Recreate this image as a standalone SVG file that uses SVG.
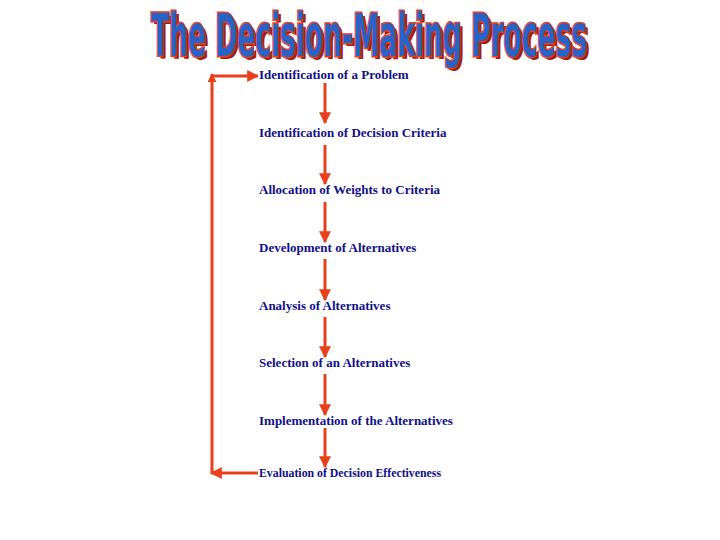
<svg xmlns="http://www.w3.org/2000/svg" width="720" height="540" viewBox="0 0 720 540">
<style>
.lbl{font-family:"Liberation Serif","Times New Roman",serif;font-weight:bold;font-size:13px;fill:#10108a}
.arr{stroke:#e8401c;stroke-width:3;fill:none}
.title{font-family:"Liberation Sans Narrow","DejaVu Sans Condensed","Liberation Sans",sans-serif;font-weight:bold;font-size:58px}
</style>
<defs>
<marker id="ah" viewBox="0 0 10 10" refX="9" refY="5" markerWidth="4" markerHeight="4" orient="auto" markerUnits="strokeWidth">
<path d="M0,0 L10,5 L0,10 Z" fill="#e8401c"/>
</marker>
<marker id="ahs" viewBox="0 0 10 10" refX="9" refY="5" markerWidth="3" markerHeight="3" orient="auto" markerUnits="strokeWidth">
<path d="M0,0 L10,5 L0,10 Z" fill="#e8401c"/>
</marker>
</defs>
<rect width="720" height="540" fill="#ffffff"/>
<g id="title">
<text x="369" y="56" text-anchor="middle" class="title" textLength="436" lengthAdjust="spacingAndGlyphs" fill="#a02010" transform="translate(3,3)">The Decision-Making Process</text>
<text x="369" y="56" text-anchor="middle" class="title" textLength="436" lengthAdjust="spacingAndGlyphs" fill="#2a62c8" stroke="#e8401c" stroke-width="3" paint-order="stroke">The Decision-Making Process</text>
</g>
<g id="n1"><text class="lbl" x="259" y="79">Identification of a Problem</text></g>
<g id="n2"><text class="lbl" x="259" y="137">Identification of Decision Criteria</text></g>
<g id="n3"><text class="lbl" x="259" y="194">Allocation of Weights to Criteria</text></g>
<g id="n4"><text class="lbl" x="259" y="252">Development of Alternatives</text></g>
<g id="n5"><text class="lbl" x="259" y="310">Analysis of Alternatives</text></g>
<g id="n6"><text class="lbl" x="259" y="367">Selection of an Alternatives</text></g>
<g id="n7"><text class="lbl" x="259" y="425">Implementation of the Alternatives</text></g>
<g id="n8"><text class="lbl" x="259" y="477" style="font-size:11.5px" textLength="182" lengthAdjust="spacingAndGlyphs">Evaluation of Decision Effectiveness</text></g>
<g id="connectors">
<line class="arr" x1="325" y1="83" x2="325" y2="123" marker-end="url(#ah)"/>
<line class="arr" x1="325" y1="145" x2="325" y2="184" marker-end="url(#ah)"/>
<line class="arr" x1="325" y1="202" x2="325" y2="242" marker-end="url(#ah)"/>
<line class="arr" x1="325" y1="259" x2="325" y2="300" marker-end="url(#ah)"/>
<line class="arr" x1="325" y1="317" x2="325" y2="357" marker-end="url(#ah)"/>
<line class="arr" x1="325" y1="374" x2="325" y2="415" marker-end="url(#ah)"/>
<line class="arr" x1="325" y1="428" x2="325" y2="467" marker-end="url(#ah)"/>
<line class="arr" x1="258" y1="473" x2="211" y2="473" marker-end="url(#ah)"/>
<line class="arr" x1="212" y1="474" x2="212" y2="74" marker-end="url(#ahs)"/>
<line class="arr" x1="211" y1="76" x2="258" y2="76" marker-end="url(#ah)"/>
</g>
</svg>
